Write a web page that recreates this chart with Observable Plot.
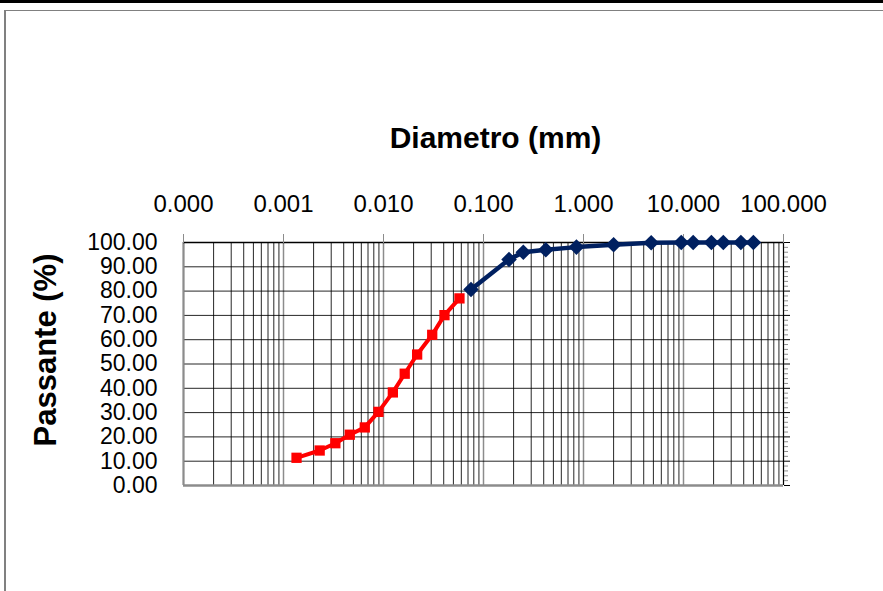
<!DOCTYPE html>
<html>
<head>
<meta charset="utf-8">
<script src="https://cdn.jsdelivr.net/npm/d3@7"></script>
<script src="https://cdn.jsdelivr.net/npm/@observablehq/plot@0.6"></script>
<style>
  body { margin: 0; background: #fff; }
  #wrap { position: relative; width: 883px; height: 591px; overflow: hidden; font-family: "Liberation Sans", Arial, sans-serif; }
  #topbar { position: absolute; left: 0; top: 0; width: 883px; height: 3px; background: #000; }
  #box { position: absolute; left: 4px; top: 10px; width: 900px; height: 600px; border-top: 1px solid #808080; border-left: 2px solid #808080; }
  #chart { position: absolute; left: 0; top: 0; }
</style>
</head>
<body>
<div id="wrap">
  <div id="topbar"></div>
  <div id="box"></div>
  <div id="chart"></div>
</div>
<script>
// Sedimentation (fine fraction) — diameter (mm) and % passing
const fineDiam = [0.00135, 0.0023, 0.0033, 0.0046, 0.0065, 0.0089, 0.0124, 0.0163, 0.0217, 0.0307, 0.0407, 0.0575];
const finePass = [11.4, 14.4, 17.4, 20.9, 23.9, 30.3, 38.3, 46.0, 53.9, 62.0, 70.1, 77.0];
// Sieving — diameter (mm) and % passing
const sieveDiam = [0.075, 0.18, 0.25, 0.42, 0.85, 2.0, 4.75, 9.5, 12.5, 19, 25, 37.5, 50];
const sievePass = [80.7, 93.0, 96.0, 97.0, 98.1, 99.05, 99.9, 100, 100, 100, 100, 100, 100];
// Tick values
const xDecades = [0.0001, 0.001, 0.01, 0.1, 1, 10, 100];
const yTicks = [0, 10, 20, 30, 40, 50, 60, 70, 80, 90, 100];
const xTitle = "Diametro (mm)";
const yTitle = "Passante (%)";

const fine = fineDiam.map((d, i) => ({d, p: finePass[i]}));
const sieve = sieveDiam.map((d, i) => ({d, p: sievePass[i]}));
const xMinor = xDecades.slice(0, -1).flatMap(v => [2, 3, 4, 5, 6, 7, 8, 9].map(k => k * v));
const yMinor = d3.range(0, 101, 2).filter(v => v % 10 !== 0);

const chart = Plot.plot({
  width: 883,
  height: 591,
  marginLeft: 183,
  marginRight: 100,
  marginTop: 242,
  marginBottom: 106,
  style: { fontFamily: "'Liberation Sans', Arial, sans-serif", background: "transparent", overflow: "visible", color: "#000" },
  x: { type: "log", domain: [0.0001, 100] },
  y: { domain: [0, 100] },
  marks: [
    Plot.gridX(xMinor, { stroke: "#000", strokeOpacity: 0.85, strokeWidth: 1 }),
    Plot.gridX(xDecades, { stroke: "#8c8c8c", strokeOpacity: 1, strokeWidth: 1.5 }),
    Plot.gridY(yTicks, { stroke: "#000", strokeOpacity: 0.85, strokeWidth: 1 }),
    Plot.ruleX([0.0001], { stroke: "#8c8c8c", strokeWidth: 2 }),
    Plot.ruleY([0], { stroke: "#8c8c8c", strokeWidth: 2.5 }),
    Plot.ruleX([100], { stroke: "#000", strokeWidth: 1 }),
    Plot.ruleY([100], { stroke: "#000", strokeWidth: 1.5 }),
    Plot.axisX({ anchor: "top", ticks: xDecades, tickFormat: d3.format(".3f"), tickSize: 9, tickPadding: 22, fontSize: 24, label: null, stroke: "#8c8c8c", fill: "#000" }),
    Plot.axisY({ anchor: "left", ticks: yTicks, tickFormat: d3.format(".2f"), tickSize: 0, tickPadding: 26, fontSize: 23, label: null, fill: "#000" }),
    Plot.axisY({ anchor: "right", ticks: yTicks, tickSize: 6, tickFormat: () => "", label: null, stroke: "#000" }),
    Plot.axisY({ anchor: "right", ticks: yMinor, tickSize: 4, tickFormat: () => "", label: null, stroke: "#8c8c8c" }),
    Plot.line(fine, { x: "d", y: "p", stroke: "#ff0000", strokeWidth: 4 }),
    Plot.dot(fine, { x: "d", y: "p", symbol: "square", r: 5.8, fill: "#ff0000", stroke: "none" }),
    Plot.line(sieve, { x: "d", y: "p", stroke: "#002060", strokeWidth: 4.5 }),
    Plot.dot(sieve, { x: "d", y: "p", symbol: "diamond2", r: 7, fill: "#002060", stroke: "none" }),
    Plot.text([xTitle], { frameAnchor: "top", textAnchor: "middle", lineAnchor: "middle", dx: 12, dy: -104, fontSize: 30, fontWeight: "bold", fill: "#000" }),
    Plot.text([yTitle], { frameAnchor: "left", textAnchor: "middle", lineAnchor: "middle", rotate: -90, dx: -137, dy: -14, fontSize: 31, fontWeight: "bold", fill: "#000" })
  ]
});
document.getElementById("chart").appendChild(chart);
</script>
</body>
</html>
